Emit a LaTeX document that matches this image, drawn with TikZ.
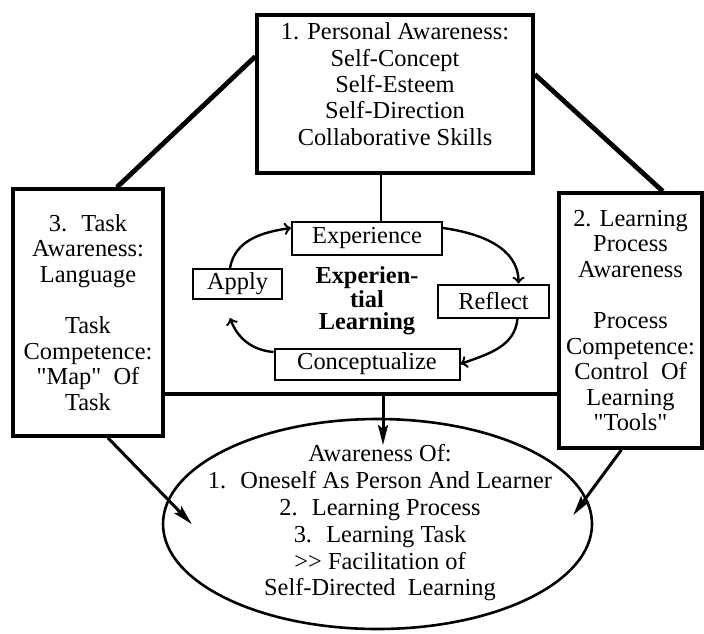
\documentclass[tikz,border=0pt]{standalone}
\usepackage{fontspec}
\setmainfont{Liberation Serif}[Ligatures=TeXOff]
\usepackage{tikz}
\usetikzlibrary{arrows.meta,shapes.geometric}

\begin{document}
\begin{tikzpicture}
	[x=0.5pt,y=0.5pt,>={Stealth[length=10pt,width=5pt,inset=2pt]},font=\fontsize{12.2}{12.8}\selectfont,
		big node/.style={rectangle,draw,line width=1.75pt,align=center,inner sep=2pt},
		cycle node/.style={rectangle,draw,line width=1pt,inner sep=1pt},
		link/.style={line width=2.4pt},
		cycle arrow/.style={->,>=to,line width=1.2pt},
		big arrow/.style={->,line width=1.5pt},
		node distance=31.5pt]

	\useasboundingbox (0,0) rectangle (704,633);

	\node[big node,minimum width=138pt,minimum height=79pt,text depth=10pt,font=\fontsize{12.2}{13.2}\selectfont] (personal) at (395,539)
		{1. Personal Awareness:\\Self-Concept\\Self-Esteem\\Self-Direction\\Collaborative Skills};
	\node[big node,minimum width=75pt,minimum height=123.5pt] (task) at (88,320.5)
		{3.~ Task\\Awareness:\\Language\\ \\Task\\Competence:\\"Map"~ Of\\Task};
	\node[big node,minimum width=71.5pt,minimum height=127.5pt] (process) at (630.5,312.5)
		{2. Learning\\Process\\Awareness\\ \\Process\\Competence:\\Control~ Of\\Learning\\"Tools"};

	% experiential learning cycle
	\node[align=center,font=\fontsize{12.2}{11}\selectfont\bfseries] (learn) at (367,332) {Experien-\\tial\\Learning};
	\node[cycle node,minimum width=75pt,minimum height=16.5pt] [above of=learn] (exper) {Experience};
	\node[cycle node,minimum width=92.5pt,minimum height=15.5pt] [below of=learn] (conc) {Conceptualize};
	\node[cycle node,minimum width=55.5pt,minimum height=16.5pt] [node distance=63.25pt,right of=learn] (reflect) {Reflect};
	\node[cycle node,minimum width=44.5pt,minimum height=15pt] [node distance=64.75pt,left of=learn,yshift=8.5pt] (apply) {Apply};

	\node[ellipse,draw,line width=1.3pt,minimum width=214.5pt,minimum height=105pt,inner sep=0pt] (aware) at (377.5,109) {};
	\node[align=center,font=\fontsize{12.2}{13.4}\selectfont] (awaretext) at (380,110)
		{Awareness Of:\\1.~ Oneself As Person And Learner\\2.~ Learning Process\\3.~ Learning Task\\>> Facilitation of\\Self-Directed~ Learning};

	\coordinate (hub) at (383,239);
	\coordinate (hubtip) at (383,188);

	\draw[link] (personal.165) -- (task.77);
	\draw[link] (personal.8) -- (process.76);
	\draw[line width=1pt] ([xshift=7pt]exper.north) -- ([xshift=7pt]exper.north |- personal.south);
	\draw[line width=2pt] (task.east |- hub) -- (process.west |- hub);

	\path[cycle arrow]
	([xshift=-3.75pt]apply.north) edge [out=80,in=188] ([yshift=5pt]exper.west)
	([yshift=5pt]exper.east) edge [out=-8,in=90] ([xshift=12.5pt]reflect.north)
	([xshift=12pt]reflect.south) edge [out=-95,in=20] (conc.east)
	([yshift=6pt]conc.west) edge [out=175,in=-70] ([xshift=-3.75pt,yshift=-9pt]apply.south)
	;

	\draw[big arrow] (hub) -- (hubtip);
	\draw[big arrow] (task.-81) -- ([xshift=15pt]aware.west);
	\draw[big arrow] (process.266) -- ([xshift=-10pt,yshift=4.5pt]aware.east);

\end{tikzpicture}
\end{document}
